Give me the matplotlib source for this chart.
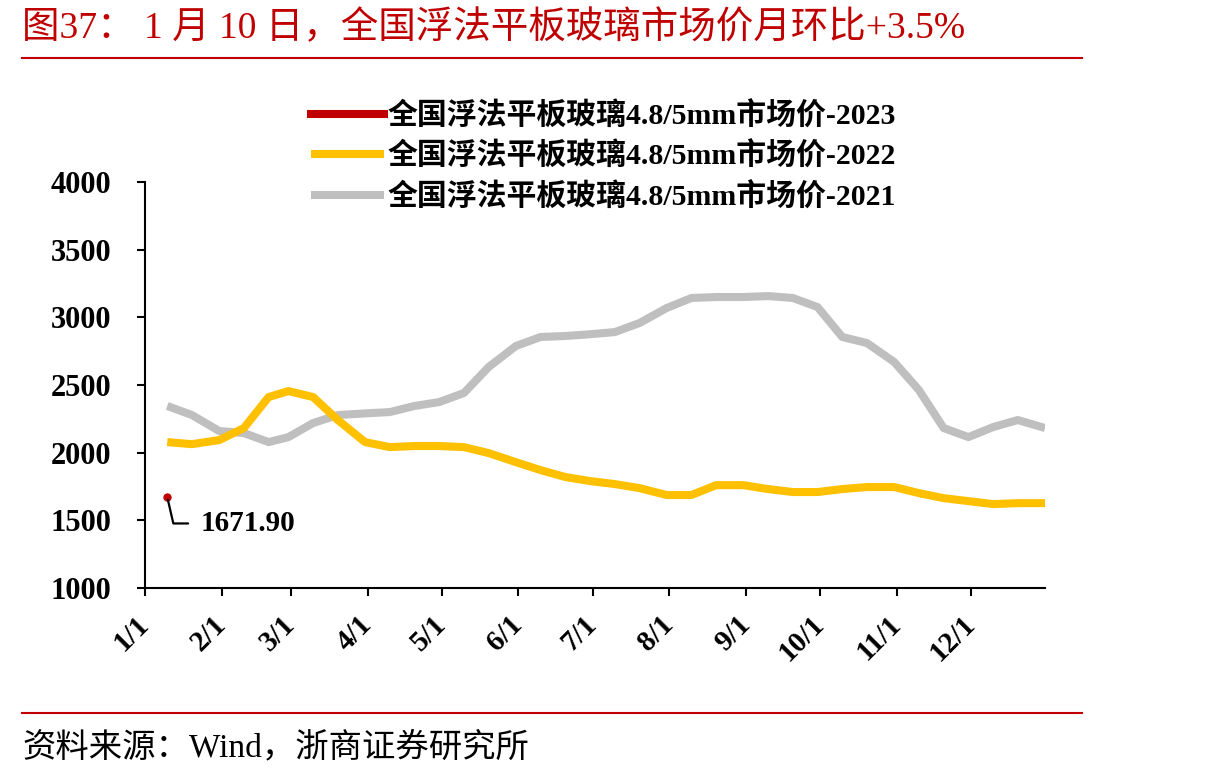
import matplotlib
matplotlib.use("Agg")
import matplotlib.pyplot as plt
from matplotlib.lines import Line2D
import pandas as pd

plt.rcParams["font.family"] = ["Liberation Serif", "Noto Sans CJK SC"]

# 10-day sampling (10th, 20th and month end), plotted on a common Jan-Dec axis
DATES = [
    "01-10", "01-20", "01-31", "02-10", "02-20", "02-28", "03-10", "03-20", "03-31",
    "04-10", "04-20", "04-30", "05-10", "05-20", "05-31", "06-10", "06-20", "06-30",
    "07-10", "07-20", "07-31", "08-10", "08-20", "08-31", "09-10", "09-20", "09-30",
    "10-10", "10-20", "10-31", "11-10", "11-20", "11-30", "12-10", "12-20", "12-31",
]
PRICE_2021 = [
    2345, 2278, 2160, 2145, 2078, 2115, 2219, 2278, 2290,
    2300, 2345, 2374, 2441, 2633, 2788, 2855, 2862, 2875,
    2891, 2958, 3069, 3143, 3150, 3150, 3157, 3143, 3076,
    2855, 2810, 2670, 2463, 2182, 2115, 2189, 2241, 2182,
]
PRICE_2022 = [
    2078, 2063, 2093, 2182, 2411, 2455, 2411, 2241, 2078,
    2041, 2049, 2049, 2041, 1997, 1930, 1871, 1820, 1790,
    1768, 1738, 1687, 1687, 1760, 1760, 1731, 1709, 1709,
    1731, 1746, 1746, 1701, 1664, 1642, 1620, 1627, 1627,
]
DATES_2023 = ["01-10"]
PRICE_2023 = [1671.90]

TICK_LABELS = ["1/1", "2/1", "3/1", "4/1", "5/1", "6/1", "7/1", "8/1", "9/1", "10/1", "11/1", "12/1"]
LEGEND_NAME = "全国浮法平板玻璃4.8/5mm市场价"
TITLE = "图37： 1 月 10 日，全国浮法平板玻璃市场价月环比+3.5%"
SOURCE = "资料来源：Wind，浙商证券研究所"

RED = "#C00000"
YELLOW = "#FFC000"
GRAY = "#BFBFBF"


def day_index(dates):
    return [pd.Timestamp("2021-" + d).dayofyear - 1 for d in dates]


W, H = 1210, 781
fig = plt.figure(figsize=(W / 100, H / 100), dpi=100)
ax = fig.add_axes([145 / W, 1 - 588 / H, 900 / W, 406 / H])

x = day_index(DATES)
ax.plot(x, PRICE_2021, color=GRAY, linewidth=5.8, solid_capstyle="butt", label=LEGEND_NAME + "-2021")
ax.plot(x, PRICE_2022, color=YELLOW, linewidth=5.8, solid_capstyle="butt", label=LEGEND_NAME + "-2022")
x23 = day_index(DATES_2023)
ax.plot(x23, PRICE_2023, color=RED, linewidth=5.8, label=LEGEND_NAME + "-2023")
ax.plot(x23, PRICE_2023, color=RED, linestyle="none", marker="o", markersize=5, label="_nolegend_")

ax.annotate(
    "{:.2f}".format(PRICE_2023[0]),
    xy=(x23[0], PRICE_2023[0]),
    xytext=(24, -19),
    textcoords="offset points",
    ha="left",
    va="center",
    fontsize=21,
    fontweight="bold",
    arrowprops=dict(
        arrowstyle="-",
        color="black",
        linewidth=1.6,
        connectionstyle="angle,angleA=0,angleB=-77,rad=0",
        relpos=(0, 0.5),
        patchA=None,
        shrinkA=9,
        shrinkB=2,
    ),
)

ax.set_xlim(0, 364)
ax.set_ylim(1000, 4000)
ax.set_yticks(range(1000, 4001, 500))
month_starts = [pd.Timestamp(2021, m, 1).dayofyear - 1 for m in range(1, 13)]
ax.set_xticks(month_starts)
ax.set_xticklabels(TICK_LABELS, rotation=45, ha="right", va="center", rotation_mode="anchor")

for side in ["top", "right"]:
    ax.spines[side].set_visible(False)
for side in ["left", "bottom"]:
    ax.spines[side].set_linewidth(1.5)
ax.tick_params(axis="both", length=6, width=1.5)
ax.tick_params(axis="y", pad=18, labelsize=22)
ax.tick_params(axis="x", pad=17, labelsize=21)
for lab in ax.get_xticklabels() + ax.get_yticklabels():
    lab.set_fontweight("bold")

handles, labels = ax.get_legend_handles_labels()
fig.legend(
    handles[::-1],
    labels[::-1],
    loc="upper left",
    bbox_to_anchor=(311 / W, 1 - 101 / H),
    frameon=False,
    prop={"size": 21.5, "weight": "bold"},
    handlelength=2.45,
    handletextpad=0.1,
    labelspacing=0.38,
    borderpad=0,
    borderaxespad=0,
)

fig.text(22 / W, 1 - 28 / H, TITLE, color=RED, fontsize=27, ha="left", va="center")
fig.text(22 / W, 1 - 748 / H, SOURCE, color="black", fontsize=24, ha="left", va="center")
for yy in (58, 713):
    fig.add_artist(Line2D([22 / W, 1082 / W], [1 - yy / H] * 2, color=RED, linewidth=1.5))

fig.savefig("out.png", dpi=100)
plt.close(fig)
